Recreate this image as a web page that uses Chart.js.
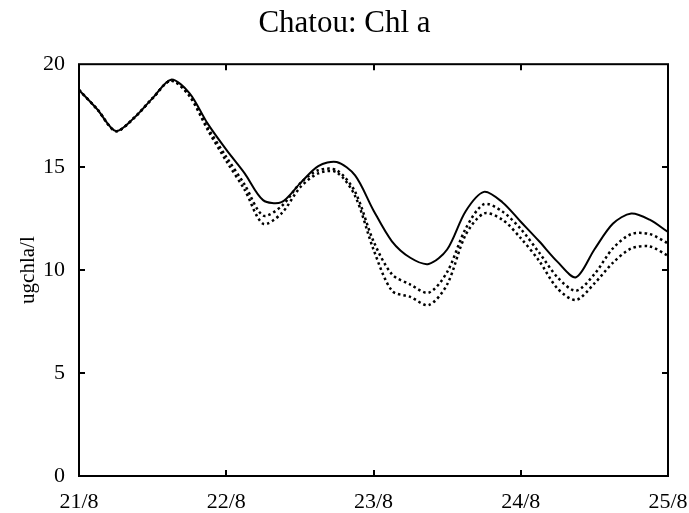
<!DOCTYPE html>
<html>
<head>
<meta charset="utf-8">
<script src="https://cdn.jsdelivr.net/npm/chart.js@4/dist/chart.umd.min.js"></script>
<style>
  html, body { margin: 0; padding: 0; background: #fff; }
  #wrap { width: 689px; height: 513px; }
</style>
</head>
<body>
<div id="wrap"><canvas id="chlChart"></canvas></div>
<script>
// hours since 21/8 00:00, one sample every 3 hours
const hours = [0, 3, 6, 9, 12, 15, 18, 21, 24, 27, 30, 33, 36, 39, 42, 45, 48,
               51, 54, 57, 60, 63, 66, 69, 72, 75, 78, 81, 84, 87, 90, 93, 96];
const dayLabels = ['21/8', '22/8', '23/8', '24/8', '25/8'];
const yTicks = [0, 5, 10, 15, 20];

// solid line
const chlSolid = [18.75, 17.8, 16.75, 17.4, 18.35, 19.25, 18.6, 17.1, 15.85, 14.7, 13.4,
                  13.3, 14.2, 15.05, 15.25, 14.6, 12.9, 11.4, 10.6, 10.3, 11.0, 12.85,
                  13.8, 13.3, 12.35, 11.4, 10.4, 9.65, 11.0, 12.25, 12.75, 12.45, 11.85];
// upper dotted line
const chlDotA = [18.75, 17.8, 16.75, 17.4, 18.35, 19.2, 18.5, 16.9, 15.5, 14.15, 12.65,
                 13.1, 14.2, 14.85, 14.85, 13.8, 11.4, 9.8, 9.3, 8.9, 9.9, 12.0,
                 13.2, 12.85, 12.0, 10.85, 9.65, 9.0, 9.8, 11.05, 11.75, 11.75, 11.3];
// lower dotted line
const chlDotB = [18.75, 17.8, 16.75, 17.4, 18.35, 19.2, 18.45, 16.8, 15.3, 13.9, 12.25,
                 12.75, 14.0, 14.7, 14.75, 13.6, 11.0, 9.0, 8.7, 8.3, 9.3, 11.7,
                 12.75, 12.45, 11.55, 10.45, 9.1, 8.55, 9.35, 10.35, 11.05, 11.15, 10.7];

const serif = "'Liberation Serif', 'Times New Roman', serif";

function pts(ys) {
    return hours.map((h, i) => ({ x: h, y: ys[i] }));
}

// frame round the plot and short inward ticks on all four sides
const framePlugin = {
    id: 'frame',
    afterDatasetsDraw(chart) {
        const { ctx, chartArea: a, scales } = chart;
        const len = 6;
        ctx.save();
        ctx.strokeStyle = '#000';
        ctx.lineWidth = 2;
        ctx.strokeRect(a.left, a.top, a.right - a.left, a.bottom - a.top);
        ctx.beginPath();
        scales.x.ticks.forEach(t => {
            const px = Math.round(scales.x.getPixelForValue(t.value));
            if (px <= a.left + 1 || px >= a.right - 1) return;
            ctx.moveTo(px, a.bottom); ctx.lineTo(px, a.bottom - len);
            ctx.moveTo(px, a.top); ctx.lineTo(px, a.top + len);
        });
        scales.y.ticks.forEach(t => {
            const py = Math.round(scales.y.getPixelForValue(t.value));
            if (py <= a.top + 1 || py >= a.bottom - 1) return;
            ctx.moveTo(a.left, py); ctx.lineTo(a.left + len, py);
            ctx.moveTo(a.right, py); ctx.lineTo(a.right - len, py);
        });
        ctx.stroke();
        ctx.restore();
    }
};

const lineStyle = { borderColor: '#000', pointRadius: 0, tension: 0.3, fill: false };

new Chart(document.getElementById('chlChart'), {
    type: 'line',
    data: {
        datasets: [
            { ...lineStyle, label: 'solid', data: pts(chlSolid), borderWidth: 2 },
            { ...lineStyle, label: 'dotted 1', data: pts(chlDotA), borderWidth: 2.5, borderDash: [2.5, 3] },
            { ...lineStyle, label: 'dotted 2', data: pts(chlDotB), borderWidth: 2.5, borderDash: [2.5, 3] }
        ]
    },
    options: {
        responsive: true,
        maintainAspectRatio: false,
        animation: false,
        plugins: {
            legend: { display: false },
            tooltip: { enabled: false },
            title: {
                display: true,
                text: 'Chatou: Chl a',
                color: '#000',
                font: { family: serif, size: 31, weight: 'normal' },
                padding: { top: 5, bottom: 22 }
            }
        },
        scales: {
            x: {
                type: 'linear',
                min: 0,
                max: 96,
                grid: { display: false, drawTicks: false },
                border: { display: false },
                afterBuildTicks(scale) {
                    scale.ticks = dayLabels.map((_, i) => ({ value: i * 24 }));
                },
                afterFit(scale) {
                    scale.height = 37;
                    scale.paddingRight = 21;
                },
                ticks: {
                    color: '#000',
                    padding: 15,
                    maxRotation: 0,
                    font: { family: serif, size: 22, lineHeight: 1.0 },
                    callback: (v) => dayLabels[v / 24]
                }
            },
            y: {
                min: 0,
                max: 20,
                grid: { display: false, drawTicks: false },
                border: { display: false },
                afterBuildTicks(scale) {
                    scale.ticks = yTicks.map(v => ({ value: v }));
                },
                afterFit(scale) {
                    scale.width = 79;
                },
                ticks: {
                    color: '#000',
                    padding: 14,
                    font: { family: serif, size: 22 }
                },
                title: {
                    display: true,
                    text: 'ugchla/l',
                    color: '#000',
                    font: { family: serif, size: 21 },
                    padding: { top: 16, bottom: 0 }
                }
            }
        }
    },
    plugins: [framePlugin]
});
</script>
</body>
</html>
